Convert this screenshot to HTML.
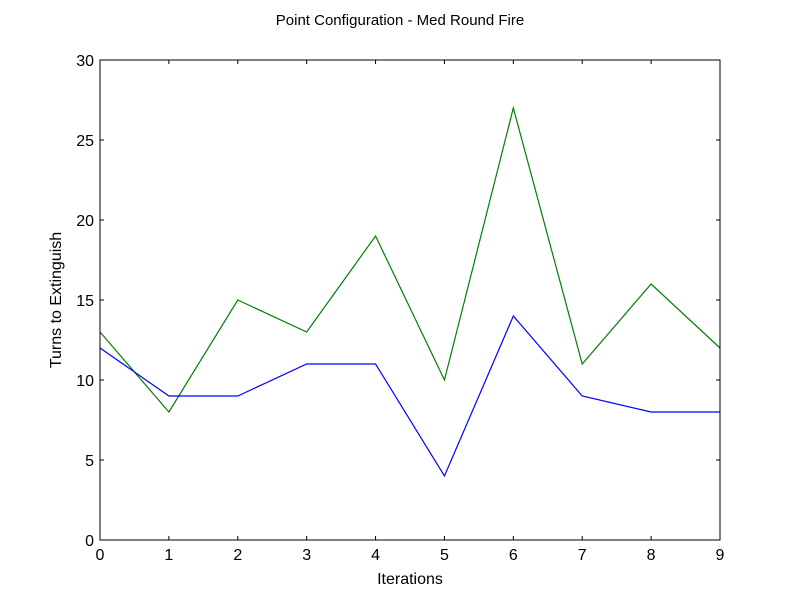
<!DOCTYPE html>
<html><head><meta charset="utf-8">
<style>
body{margin:0;background:#fff;}
svg{display:block;font-family:"Liberation Sans","DejaVu Sans",sans-serif;}
</style></head>
<body>
<svg id="chart" width="800" height="600" viewBox="0 0 800 600">
<rect width="800" height="600" fill="#fff"/>
<text x="400" y="25" text-anchor="middle" font-size="15">Point Configuration - Med Round Fire</text>
<g id="ticks"></g>
<g id="lines"></g>
<rect x="100" y="60" width="620" height="480" fill="none" stroke="#000" stroke-width="1"/>
<text x="410" y="584" text-anchor="middle" font-size="16">Iterations</text>
<text transform="translate(61,300) rotate(-90)" text-anchor="middle" font-size="16">Turns to Extinguish</text>
</svg>
<script>
const iterations=[0,1,2,3,4,5,6,7,8,9];
const blueSeries=[12,9,9,11,11,4,14,9,8,8];
const greenSeries=[13,8,15,13,19,10,27,11,16,12];
const xTicks=[0,1,2,3,4,5,6,7,8,9];
const yTicks=[0,5,10,15,20,25,30];
const NS="http://www.w3.org/2000/svg";
const X0=100,X1=720,Y0=540,Y1=60;
function xs(v){return X0+(v-0)/(9-0)*(X1-X0);}
function ys(v){return Y0-(v-0)/(30-0)*(Y0-Y1);}
function mk(t,a){const e=document.createElementNS(NS,t);for(const k in a)e.setAttribute(k,a[k]);return e;}
const tg=document.getElementById('ticks');
xTicks.forEach(v=>{
  const x=xs(v);
  const l1=mk('line',{x1:x,x2:x,y1:Y0,y2:Y0-4,stroke:'#000'});
  
  
  tg.appendChild(l1);
  const l2=mk('line',{x1:x,x2:x,y1:Y1,y2:Y1+4,stroke:'#000'});
  
  
  tg.appendChild(l2);
  const t=mk('text',{x:x,y:Y0+20,'text-anchor':'middle','font-size':16});
  t.textContent=v;
  
  
  tg.appendChild(t);
});
yTicks.forEach(v=>{
  const y=ys(v);
  const l1=mk('line',{x1:X0,x2:X0+4,y1:y,y2:y,stroke:'#000'});
  
  
  tg.appendChild(l1);
  const l2=mk('line',{x1:X1,x2:X1-4,y1:y,y2:y,stroke:'#000'});
  
  
  tg.appendChild(l2);
  const t=mk('text',{x:X0-6,y:y+6,'text-anchor':'end','font-size':16});
  t.textContent=v;
  
  
  tg.appendChild(t);
});
const lg=document.getElementById('lines');
function drawLine(vals,color,name){
  const pts=vals.map((v,i)=>xs(iterations[i])+','+ys(v)).join(' ');
  const p=mk('polyline',{points:pts,fill:'none',stroke:color,'stroke-width':1.2});
  
  
  lg.appendChild(p);
}
drawLine(greenSeries,'#008000','green-series-line');
drawLine(blueSeries,'#0000ff','blue-series-line');
</script>
</body></html>
